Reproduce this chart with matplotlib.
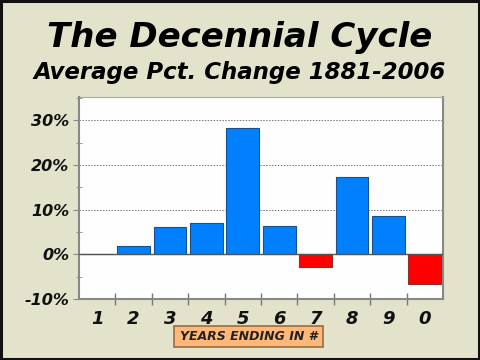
import matplotlib
matplotlib.use("Agg")
import matplotlib.pyplot as plt
from matplotlib.patches import Rectangle
from matplotlib.ticker import MultipleLocator, FixedLocator

categories = ["1", "2", "3", "4", "5", "6", "7", "8", "9", "0"]
values = [0.0, 1.8, 6.0, 7.05, 28.3, 6.4, -2.9, 17.2, 8.5, -6.7]
y_ticks = [-10, 0, 10, 20, 30]
y_tick_labels = ["-10%", "0%", "10%", "20%", "30%"]

BG = "#E3E2CB"
BLUE = "#0080FF"
RED = "#FF0000"
FONT = {"family": "DejaVu Sans", "weight": "bold", "style": "italic"}

fig = plt.figure(figsize=(4.8, 3.6), dpi=100)
fig.patch.set_facecolor(BG)
# outer black frame
fig.patches.append(Rectangle((0.002, 0.003), 0.995, 0.994, transform=fig.transFigure,
                             fill=False, edgecolor="#111111", linewidth=2.2))

ax = fig.add_axes([79/480, 1-299/360, (443-79)/480, (299-97)/360])
ax.set_facecolor("#FDFEFD")

x = list(range(len(categories)))
colors = [BLUE if v >= 0 else RED for v in values]
edges = ["#1B4E8A" if v >= 0 else "#8A3030" for v in values]
ax.bar(x, values, width=0.9, color=colors, edgecolor=edges, linewidth=0.8, zorder=3)

ax.set_xlim(-0.5, len(categories) - 0.5)
ax.set_ylim(-10, 35.2)

for yv in [10, 20, 30]:
    ax.axhline(yv, color="#777777", linestyle=(0, (1.5, 1.5)), linewidth=0.7, zorder=1)
ax.axhline(0, color="#555555", linewidth=1.0, zorder=4)

ax.set_yticks(y_ticks)
ax.set_yticklabels(y_tick_labels, fontdict=dict(FONT, size=11.5), color="#111111")
ax.yaxis.set_minor_locator(MultipleLocator(5))
ax.tick_params(axis="y", which="major", length=4, direction="out", color="#888888", pad=3)
ax.tick_params(axis="y", which="minor", length=5, direction="inout", color="#888888")

# category labels centered, tick marks at boundaries
ax.set_xticks(x)
ax.set_xticklabels(categories, fontdict=dict(FONT, size=13), color="#111111")
ax.tick_params(axis="x", which="major", length=0, pad=8)
ax.xaxis.set_minor_locator(FixedLocator([i + 0.5 for i in range(len(categories) - 1)]))
ax.tick_params(axis="x", which="minor", length=9, direction="inout", color="#777777", width=1)

for s in ["top", "right"]:
    ax.spines[s].set_visible(False)
for s in ["left", "bottom"]:
    ax.spines[s].set_color("#888888")
    ax.spines[s].set_linewidth(1.5)

# right and top border of plot area
ax.plot([1, 1], [0, 1], transform=ax.transAxes, color="#888888", lw=1.5, clip_on=False)
ax.plot([0, 1], [1, 1], transform=ax.transAxes, color="#aaaaaa", lw=0.8, clip_on=False)

fig.text(0.5, 1-38/360, "The Decennial Cycle", ha="center", va="center",
         fontsize=24.5, color="black", **FONT)
fig.text(0.5, 1-72/360, "Average Pct. Change 1881-2006", ha="center", va="center",
         fontsize=16.5, color="black", **FONT)

# x label box
fig.patches.append(Rectangle((174/480, 1-347/360), (323-174)/480, 21/360,
                             transform=fig.transFigure, facecolor="#FFB878",
                             edgecolor="#9A6A40", linewidth=1.2))
fig.text((174+323)/2/480, 1-336.5/360, "YEARS ENDING IN #", ha="center", va="center",
         fontsize=9, color="#222222", **FONT)

fig.savefig("out.png", dpi=100, facecolor=BG)
